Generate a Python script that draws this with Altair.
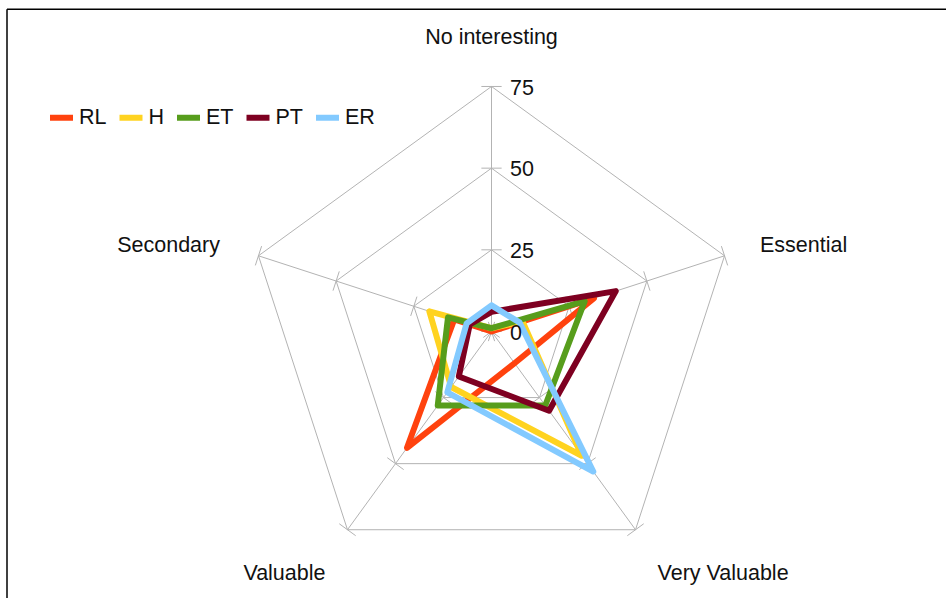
import math
import altair as alt
import pandas as pd

# ---- data -------------------------------------------------------------
axis_names = ["No interesting", "Essential", "Very Valuable", "Valuable", "Secondary"]
series_names = ["RL", "H", "ET", "PT", "ER"]
series_colors = ["#ff420e", "#ffd320", "#579d1c", "#7e0021", "#83caff"]

rl_values = [0, 33, 12, 44, 12]
h_values = [1, 10, 47, 21, 20]
et_values = [1, 30, 28, 28, 14]
pt_values = [6, 40, 30, 17, 7]
er_values = [8, 9, 53, 23, 8]

grid_levels = [25, 50, 75]
tick_levels = [0, 25, 50, 75]
tick_texts = ["0", "25", "50", "75"]
max_level = 75

# ---- layout ----------------------------------------------------------
W, H = 946, 598
CX, CY = 491.5, 331.5          # pixel position of the radar centre
PX_PER_UNIT = 3.267            # pixels per value unit
TICK_HALF = 3.1                # half-length of axis tick marks, value units
FONT = "Liberation Sans"
FSIZE = 21.5
TEXT_COLOR = "#111111"
GRID_COLOR = "#b3b3b3"

x_scale = alt.Scale(domain=[-CX / PX_PER_UNIT, (W - CX) / PX_PER_UNIT], nice=False, zero=False)
y_scale = alt.Scale(domain=[-(H - CY) / PX_PER_UNIT, CY / PX_PER_UNIT], nice=False, zero=False)

N = len(axis_names)
ANG = f"datum.k * 2 * PI / {N}"


def polar(chart, r_field, xname="px", yname="py"):
    return chart.transform_calculate(
        **{xname: f"datum.{r_field} * sin({ANG})", yname: f"datum.{r_field} * cos({ANG})"}
    )


X = lambda f: alt.X(f"{f}:Q", scale=x_scale, axis=None)
Y = lambda f: alt.Y(f"{f}:Q", scale=y_scale, axis=None)

# ---- series table (closed polygons) ----------------------------------
rows = []
for name, vals in zip(series_names, [rl_values, h_values, et_values, pt_values, er_values]):
    for i in range(N + 1):
        rows.append({"series": name, "idx": i, "k": i % N, "value": vals[i % N]})
series_df = pd.DataFrame(rows)

grid_df = pd.DataFrame(
    [{"level": lv, "idx": i, "k": i % N} for lv in grid_levels for i in range(N + 1)]
)
spoke_df = pd.DataFrame([{"k": k, "r0": 0, "r1": max_level} for k in range(N)])
tick_df = pd.DataFrame([{"k": k, "level": lv} for k in range(N) for lv in tick_levels])
tick_label_df = pd.DataFrame({"level": tick_levels, "label": tick_texts})

# ---- grid --------------------------------------------------------------
grid = polar(alt.Chart(grid_df), "level").mark_line(
    color=GRID_COLOR, strokeWidth=1
).encode(x=X("px"), y=Y("py"), detail="level:N", order="idx:Q")

spokes = (
    alt.Chart(spoke_df)
    .transform_calculate(x0="0", y0="0")
    .transform_calculate(px=f"datum.r1 * sin({ANG})", py=f"datum.r1 * cos({ANG})")
    .mark_rule(color=GRID_COLOR, strokeWidth=1)
    .encode(x=X("x0"), y=Y("y0"), x2="px:Q", y2="py:Q")
)

ticks = (
    alt.Chart(tick_df)
    .transform_calculate(
        tx1=f"datum.level * sin({ANG}) - {TICK_HALF} * cos({ANG})",
        ty1=f"datum.level * cos({ANG}) + {TICK_HALF} * sin({ANG})",
        tx2=f"datum.level * sin({ANG}) + {TICK_HALF} * cos({ANG})",
        ty2=f"datum.level * cos({ANG}) - {TICK_HALF} * sin({ANG})",
    )
    .mark_rule(color=GRID_COLOR, strokeWidth=1)
    .encode(x=X("tx1"), y=Y("ty1"), x2="tx2:Q", y2="ty2:Q")
)

tick_labels = (
    alt.Chart(tick_label_df)
    .transform_calculate(x0="0")
    .mark_text(align="left", baseline="alphabetic", dx=18.5, dy=8.3,
               font=FONT, fontSize=FSIZE, color=TEXT_COLOR)
    .encode(x=X("x0"), y=Y("level"), text="label:N")
)

# ---- category labels -------------------------------------------------
label_styles = [
    dict(align="center", dx=0, dy=-42),
    dict(align="left", dx=35.5, dy=-4),
    dict(align="left", dx=22, dy=50),
    dict(align="right", dx=-22, dy=50),
    dict(align="right", dx=-38.5, dy=-4),
]
cat_layers = []
for k, (name, st) in enumerate(zip(axis_names, label_styles)):
    df = pd.DataFrame([{"k": k, "r": max_level, "label": name}])
    cat_layers.append(
        polar(alt.Chart(df), "r")
        .mark_text(baseline="alphabetic", font=FONT, fontSize=FSIZE, color=TEXT_COLOR, **st)
        .encode(x=X("px"), y=Y("py"), text="label:N")
    )

# ---- series polygons ----------------------------------------------------
color_scale = alt.Scale(domain=series_names, range=series_colors)
line_layers = []
for name in series_names:
    line_layers.append(
        polar(alt.Chart(series_df).transform_filter(alt.datum.series == name), "value")
        .mark_line(strokeWidth=6, strokeJoin="round", strokeCap="round")
        .encode(
            x=X("px"),
            y=Y("py"),
            order="idx:Q",
            color=alt.Color(
                "series:N",
                scale=color_scale,
                legend=alt.Legend(
                    title=None,
                    orient="none",
                    legendX=47,
                    legendY=103,
                    direction="horizontal",
                    symbolType="stroke",
                    symbolSize=529,
                    symbolStrokeWidth=6,
                    labelFont=FONT,
                    labelFontSize=FSIZE,
                    labelColor=TEXT_COLOR,
                    labelOffset=3,
                    columnPadding=0.5,
                    padding=0,
                ),
            ),
        )
    )

# ---- outer frame ---------------------------------------------------------
one = pd.DataFrame({"a": [0]})
frame_top = alt.Chart(one).mark_rule(color="#000000", strokeWidth=1.5).encode(
    x=alt.value(7), x2=alt.value(W), y=alt.value(9.3)
)
frame_left = alt.Chart(one).mark_rule(color="#000000", strokeWidth=1.5).encode(
    x=alt.value(7), y=alt.value(9.3), y2=alt.value(H)
)

chart = (
    alt.layer(grid, spokes, ticks, *line_layers, tick_labels, *cat_layers, frame_top, frame_left)
    .properties(width=W, height=H, autosize=alt.AutoSizeParams(type="none"), padding=0,
                background="white")
    .configure_view(stroke=None)
)

chart.save("out.html", embed_options={"renderer": "svg", "actions": False})
